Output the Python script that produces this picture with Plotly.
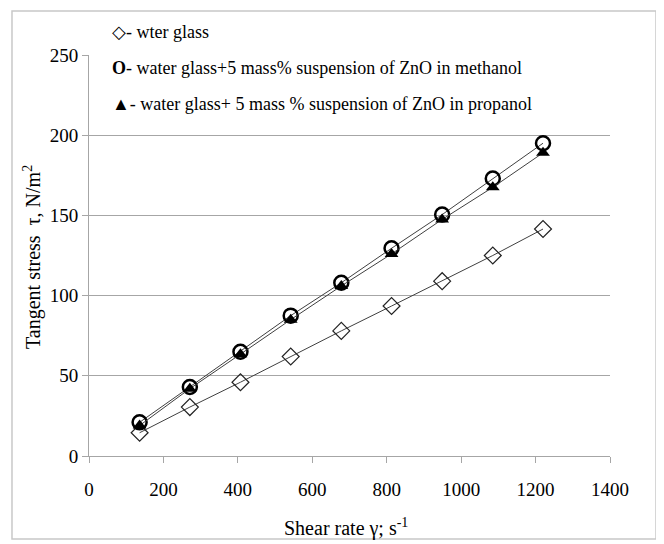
import plotly.graph_objects as go

shear_rate = [136, 271, 407, 542, 678, 813, 949, 1085, 1220]
water_glass = [14.5, 30.5, 46.0, 62.0, 78.0, 93.5, 109.0, 125.0, 141.5]
methanol = [21.0, 43.0, 65.0, 87.5, 108.0, 129.5, 150.5, 173.0, 195.0]
propanol = [19.0, 42.0, 63.5, 85.0, 106.0, 126.0, 147.5, 167.5, 189.0]

legend_texts = [
    "◇- wter glass",
    "<b>O</b>- water glass+5 mass% suspension of ZnO in methanol",
    "▲- water glass+ 5 mass % suspension of ZnO in propanol",
]
x_title = "Shear rate γ; s<sup>-1</sup>"
y_title = "Tangent stress  τ, N/m<sup>2</sup>"

font_family = "Times New Roman"
line_col = "#404040"

fig = go.Figure()
fig.add_trace(go.Scatter(
    x=shear_rate, y=water_glass, mode="lines+markers",
    line=dict(color=line_col, width=1),
    marker=dict(symbol="diamond-open", size=13, color="#222222", line=dict(width=1.2)),
    name="water glass"))
fig.add_trace(go.Scatter(
    x=shear_rate, y=methanol, mode="lines+markers",
    line=dict(color=line_col, width=1),
    marker=dict(symbol="circle-open", size=14, color="#000000", line=dict(width=2.5)),
    name="methanol"))
fig.add_trace(go.Scatter(
    x=shear_rate, y=propanol, mode="lines+markers",
    line=dict(color=line_col, width=1),
    marker=dict(symbol="triangle-up", size=12, color="#000000"),
    name="propanol"))

# legend-like text boxes
ys_px = [32, 68, 104]
for txt, ypx in zip(legend_texts, ys_px):
    fig.add_annotation(
        x=(110 - 89) / 521, y=(456 - ypx) / 401, xref="paper", yref="paper",
        text=txt, showarrow=False, xanchor="left", yanchor="middle",
        font=dict(family=font_family, size=18, color="#000000"))

# axis titles
fig.add_annotation(x=(346 - 89) / 521, y=(456 - 527) / 401, xref="paper", yref="paper",
                   text=x_title, showarrow=False, xanchor="center", yanchor="middle",
                   font=dict(family=font_family, size=20, color="#000000"))
fig.add_annotation(x=(33 - 89) / 521, y=(456 - 257) / 401, xref="paper", yref="paper",
                   text=y_title, showarrow=False, xanchor="center", yanchor="middle", textangle=-90,
                   font=dict(family=font_family, size=20, color="#000000"))

# outer chart border
fig.add_shape(type="rect", xref="paper", yref="paper",
              x0=-0.1478, x1=1.0883, y0=-0.207, y1=1.1097,
              line=dict(color="#c8c8c8", width=1.5), fillcolor="rgba(0,0,0,0)")

fig.update_layout(
    width=656, height=536,
    margin=dict(l=81, r=54, t=47, b=88),
    paper_bgcolor="white", plot_bgcolor="white",
    showlegend=False,
    font=dict(family=font_family, size=18, color="#000000"),
    xaxis=dict(
        range=[0, 1400], tickvals=[0, 200, 400, 600, 800, 1000, 1200, 1400],
        showgrid=False, zeroline=False, showline=True, linecolor="#a6a6a6", linewidth=1,
        ticks="outside", ticklen=6, tickcolor="#a6a6a6", automargin=False,
        ticklabelstandoff=10,
        tickfont=dict(family=font_family, size=19)),
    yaxis=dict(
        range=[0, 250], tickvals=[0, 50, 100, 150, 200, 250],
        showgrid=True, gridcolor="#a6a6a6", gridwidth=1, zeroline=False,
        showline=True, linecolor="#a6a6a6", linewidth=1,
        ticks="outside", ticklen=6, tickcolor="#a6a6a6", automargin=False,
        tickfont=dict(family=font_family, size=19)),
)

fig.write_html("out.html")
